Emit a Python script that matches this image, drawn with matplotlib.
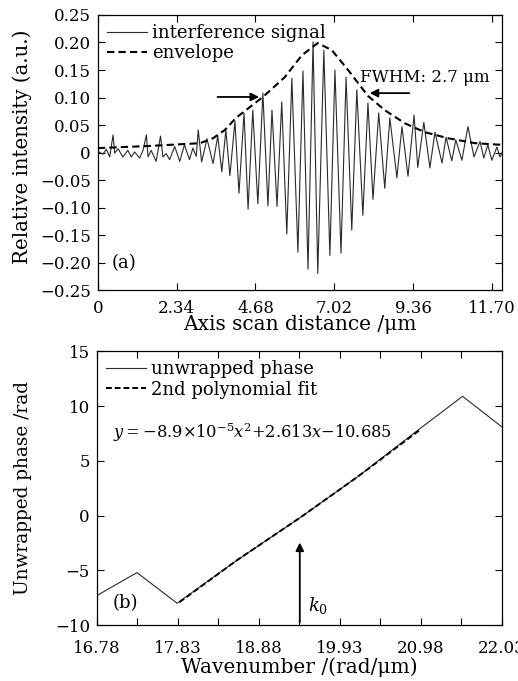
import matplotlib
matplotlib.use("Agg")
import matplotlib.pyplot as plt
import numpy as np

plt.rcParams["font.family"] = "DejaVu Serif"
plt.rcParams["mathtext.fontset"] = "dejavuserif"
plt.rcParams["font.size"] = 12

########################################################################
# (a) interference signal (um, a.u.)
sig_x = [0.00, 0.15, 0.25, 0.35, 0.45, 0.50, 0.60, 0.74, 0.89, 0.99,
         1.09, 1.24, 1.34, 1.44, 1.49, 1.58, 1.73, 1.86, 1.93, 2.03,
         2.13, 2.28, 2.43, 2.57, 2.72, 2.82, 2.92, 2.98, 3.08,
         3.24, 3.42, 3.56, 3.68, 3.80, 3.92, 4.07, 4.19, 4.34, 4.46,
         4.60, 4.75, 4.90, 5.05, 5.17, 5.32, 5.46, 5.61, 5.76, 5.94,
         6.09, 6.24, 6.39, 6.53, 6.71, 6.89, 7.04, 7.22, 7.37, 7.54,
         7.69, 7.87, 8.02, 8.17, 8.34, 8.52, 8.67, 8.88, 9.03, 9.21,
         9.39, 9.50, 9.68, 9.86, 10.01, 10.22, 10.34, 10.51, 10.63, 10.81,
         10.99, 11.17, 11.35, 11.46, 11.58, 11.70, 11.85, 11.94, 12.00]
sig_y = [0.002, -0.003, 0.006, -0.008, 0.032, -0.001, 0.007, -0.008, 0.004, -0.008,
         0.001, -0.010, 0.004, 0.032, -0.008, 0.004, -0.016, 0.030, -0.008, -0.002,
         -0.013, 0.011, -0.016, 0.014, -0.013, 0.008, -0.007, 0.041, -0.017,
         0.025, -0.020, 0.030, -0.035, 0.041, -0.042, 0.057, -0.074, 0.072, -0.103,
         0.077, -0.093, 0.108, -0.097, 0.077, -0.098, 0.092, -0.148, 0.135, -0.181,
         0.148, -0.212, 0.201, -0.220, 0.186, -0.187, 0.150, -0.183, 0.137, -0.141,
         0.114, -0.114, 0.090, -0.085, 0.072, -0.065, 0.063, -0.046, 0.047, -0.043,
         0.068, -0.027, 0.055, -0.028, 0.037, -0.019, 0.028, -0.015, 0.023, -0.014,
         0.047, -0.008, 0.020, -0.010, 0.014, -0.014, 0.010, -0.008, 0.000]

env_x = [0.00, 1.54, 3.03, 3.42, 3.77, 4.10, 4.90, 5.55, 6.06, 6.53,
         6.95, 7.43, 8.02, 8.52, 9.12, 9.71, 10.40, 11.20, 12.00]
env_y = [0.008, 0.012, 0.017, 0.026, 0.041, 0.063, 0.101, 0.137, 0.177, 0.199,
         0.186, 0.150, 0.103, 0.077, 0.053, 0.037, 0.026, 0.017, 0.014]

# (b) unwrapped phase (rad/um, rad)
k_vals = [16.78, 17.30, 17.82, 18.59, 19.41, 20.15, 20.94, 21.52, 22.03]
phase = [-7.3, -5.2, -8.0, -4.1, -0.2, 3.5, 7.8, 10.9, 8.1]
fit_k = [17.85, 18.59, 19.41, 20.15, 20.98]
fit_phase = [-7.9, -4.1, -0.2, 3.5, 7.9]
k0 = 19.41

xt_a = [0, 2.34, 4.68, 7.02, 9.36, 11.70]
xt_a_lab = ["0", "2.34", "4.68", "7.02", "9.36", "11.70"]
yt_a = [0.25, 0.20, 0.15, 0.10, 0.05, 0, -0.05, -0.10, -0.15, -0.20, -0.25]
yt_a_lab = ["0.25", "0.20", "0.15", "0.10", "0.05", "0", "\u22120.05",
            "\u22120.10", "\u22120.15", "\u22120.20", "\u22120.25"]
xt_b = [16.78, 17.305, 17.83, 18.355, 18.88, 19.405, 19.93, 20.455, 20.98, 21.505, 22.03]
xt_b_lab = ["16.78", "", "17.83", "", "18.88", "", "19.93", "", "20.98", "", "22.03"]
yt_b = [-10, -5, 0, 5, 10, 15]
yt_b_lab = ["\u221210", "\u22125", "0", "5", "10", "15"]

########################################################################
fig = plt.figure(figsize=(5.18, 6.81), dpi=100)
ax1 = fig.add_axes([0.189, 0.574, 0.780, 0.404])
ax2 = fig.add_axes([0.187, 0.082, 0.782, 0.402])

for ax in (ax1, ax2):
    ax.tick_params(direction="in", top=True, right=True, length=5, width=0.8)
    ax.tick_params(axis="y", pad=5)
    for s in ax.spines.values():
        s.set_linewidth(0.9)
ax1.tick_params(axis="x", pad=7)
ax2.tick_params(axis="x", pad=11)

# top panel
ax1.plot(sig_x, sig_y, color="#2a2a2a", lw=0.8, label="interference signal")
ax1.plot(env_x, env_y, color="black", lw=1.5, ls=(0, (3.5, 2)), label="envelope")
ax1.set_xlim(0, 12)
ax1.set_ylim(-0.25, 0.25)
ax1.set_xticks(xt_a)
ax1.set_xticklabels(xt_a_lab)
ax1.set_yticks(yt_a)
ax1.set_yticklabels(yt_a_lab)
ax1.set_xlabel("Axis scan distance /\u03bcm", fontsize=14.5, labelpad=-1)
ax1.set_ylabel("Relative intensity (a.u.)", fontsize=14.2)
ax1.yaxis.set_label_coords(-0.163, 0.52)
ax1.legend(loc="upper left", frameon=False, fontsize=13, handlelength=2.2,
           handletextpad=0.3, labelspacing=0.12, borderaxespad=0.3, borderpad=0.2)
ax1.annotate("", xy=(4.87, 0.101), xytext=(3.47, 0.101),
             arrowprops=dict(arrowstyle="-|>", color="black", lw=1.3,
                             mutation_scale=12))
ax1.annotate("", xy=(7.99, 0.108), xytext=(9.33, 0.108),
             arrowprops=dict(arrowstyle="-|>", color="black", lw=1.3,
                             mutation_scale=12))
ax1.text(7.78, 0.137, "FWHM: 2.7 \u03bcm", va="center", ha="left")
ax1.text(0.42, -0.20, "(a)", va="center", ha="left", fontsize=13)

# bottom panel
ax2.plot(k_vals, phase, color="#2a2a2a", lw=0.8, label="unwrapped phase")
ax2.plot(fit_k, fit_phase, color="black", lw=1.4, ls=(0, (3, 1.5)),
         label="2nd polynomial fit")
ax2.set_xlim(16.78, 22.03)
ax2.set_ylim(-10, 15)
ax2.set_xticks(xt_b)
ax2.set_xticklabels(xt_b_lab)
ax2.set_yticks(yt_b)
ax2.set_yticklabels(yt_b_lab)
ax2.set_xlabel("Wavenumber /(rad/\u03bcm)", fontsize=14.5, labelpad=0)
ax2.set_ylabel("Unwrapped phase /rad", fontsize=13.3)
ax2.yaxis.set_label_coords(-0.160, 0.5)
ax2.legend(loc="upper left", frameon=False, fontsize=13, handlelength=2.2,
           handletextpad=0.3, labelspacing=0.12, borderaxespad=0.3, borderpad=0.2)
ax2.text(16.99, 7.6, r"$y{=}{-}8.9{\times}10^{-5}x^2{+}2.613x{-}10.685$",
         va="center", ha="left", fontsize=11.7)
ax2.annotate("", xy=(k0, -2.2), xytext=(k0, -10),
             arrowprops=dict(arrowstyle="-|>", color="black", lw=1.3,
                             mutation_scale=12))
ax2.text(19.51, -8.2, r"$k_0$", va="center", ha="left", fontsize=13)
ax2.text(16.99, -8.0, "(b)", va="center", ha="left", fontsize=13)

fig.savefig("out.png", dpi=100)
